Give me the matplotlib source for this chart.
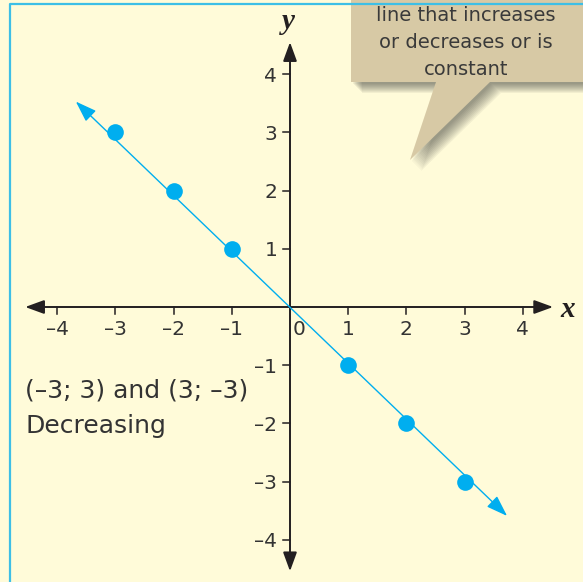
import matplotlib
matplotlib.use("Agg")
import matplotlib.pyplot as plt
from matplotlib.patches import Polygon

# data
point_x = [-3, -2, -1, 1, 2, 3]
point_y = [3, 2, 1, -1, -2, -3]
line_start = (-3.68, 3.53)
line_end = (3.73, -3.59)
tick_vals = [-4, -3, -2, -1, 1, 2, 3, 4]
tick_text = ["–4", "–3", "–2", "–1", "1", "2", "3", "4"]
note_lines = ["(–3; 3) and (3; –3)", "Decreasing"]
callout_lines = ["line that increases", "or decreases or is", "constant"]

W, H = 583, 582
bg = "#fffbd9"
blue = "#00aeef"
ink = "#231f20"
txt = "#333333"

fig = plt.figure(figsize=(W / 100, H / 100), dpi=100, facecolor=bg)
ax = fig.add_axes([0, 0, 1, 1])
ax.set_facecolor(bg)
u = 58.2  # pixels per unit
ox, oy = 290, 307
ax.set_xlim(-ox / u, (W - ox) / u)
ax.set_ylim(-(H - oy) / u, oy / u)
ax.axis("off")


def px(x, y):  # pixel (top-left origin) -> figure fraction
    return (x / W, 1 - y / H)


# cyan frame (top + left)
fig.add_artist(plt.Line2D([px(10, 0)[0], px(10, 0)[0], 1.0],
                          [0.0, px(0, 4)[1], px(0, 4)[1]],
                          transform=fig.transFigure, color="#3dbfe6", lw=1.6))

# axes with arrows
arw = dict(arrowstyle="-|>,head_length=1.15,head_width=0.42", color=ink, lw=1.4,
           shrinkA=0, shrinkB=0, mutation_scale=10)
ax.annotate("", xy=(4.52, 0), xytext=(0, 0), arrowprops=arw)
ax.annotate("", xy=(-4.55, 0), xytext=(0, 0), arrowprops=arw)
ax.annotate("", xy=(0, 4.55), xytext=(0, 0), arrowprops=arw)
ax.annotate("", xy=(0, -4.54), xytext=(0, 0), arrowprops=arw)

tl = 7 / u
for v, s in zip(tick_vals, tick_text):
    ax.plot([v, v], [0, -tl], color=ink, lw=1.1)
    ax.plot([-tl, 0], [v, v], color=ink, lw=1.1)
    ax.text(v, -0.48, s, ha="center", va="baseline", fontsize=14.5, color=txt)
    ax.text(-0.22, v - 0.13, s, ha="right", va="baseline", fontsize=14.5, color=txt)
ax.text(0.05, -0.48, "0", ha="left", va="baseline", fontsize=14.5, color=txt)

ax.text(4.77, -0.05, "x", ha="center", va="center", fontsize=21,
        family="Liberation Serif", weight="bold", style="italic", color=ink)
ax.text(-0.02, 4.9, "y", ha="center", va="center", fontsize=21,
        family="Liberation Serif", weight="bold", style="italic", color=ink)

# blue line with arrows on both ends
barw = dict(arrowstyle="<|-|>,head_length=1.3,head_width=0.45", color=blue, lw=1.0,
            shrinkA=0, shrinkB=0, mutation_scale=10)
ax.annotate("", xy=line_end, xytext=line_start, arrowprops=barw)
ax.plot(point_x, point_y, "o", color=blue, ms=12, mec="none", zorder=5)

ax.text(-4.55, -1.56, note_lines[0], fontsize=18, color=txt, va="baseline")
ax.text(-4.55, -2.165, note_lines[1], fontsize=18, color=txt, va="baseline")

# callout box with soft shadow
shape = [(351, -10), (351, 82), (436, 82), (410, 160), (490, 82), (600, 82), (600, -10)]
for k in range(10):
    d = 2 + k * 1.0
    pts = [px(x + d, y + d) for x, y in shape]
    fig.add_artist(Polygon(pts, closed=True, transform=fig.transFigure,
                           facecolor="#2a2a2a", edgecolor="none", alpha=0.06))
fig.add_artist(Polygon([px(x, y) for x, y in shape], closed=True,
                       transform=fig.transFigure, facecolor="#d7c9a5", edgecolor="none"))
for s, yb in zip(callout_lines, [21, 48, 75]):
    fig.text(*px(466, yb), s, ha="center", va="baseline", fontsize=14, color="#3a3a3a")

fig.savefig("out.png", dpi=100, facecolor=bg)
